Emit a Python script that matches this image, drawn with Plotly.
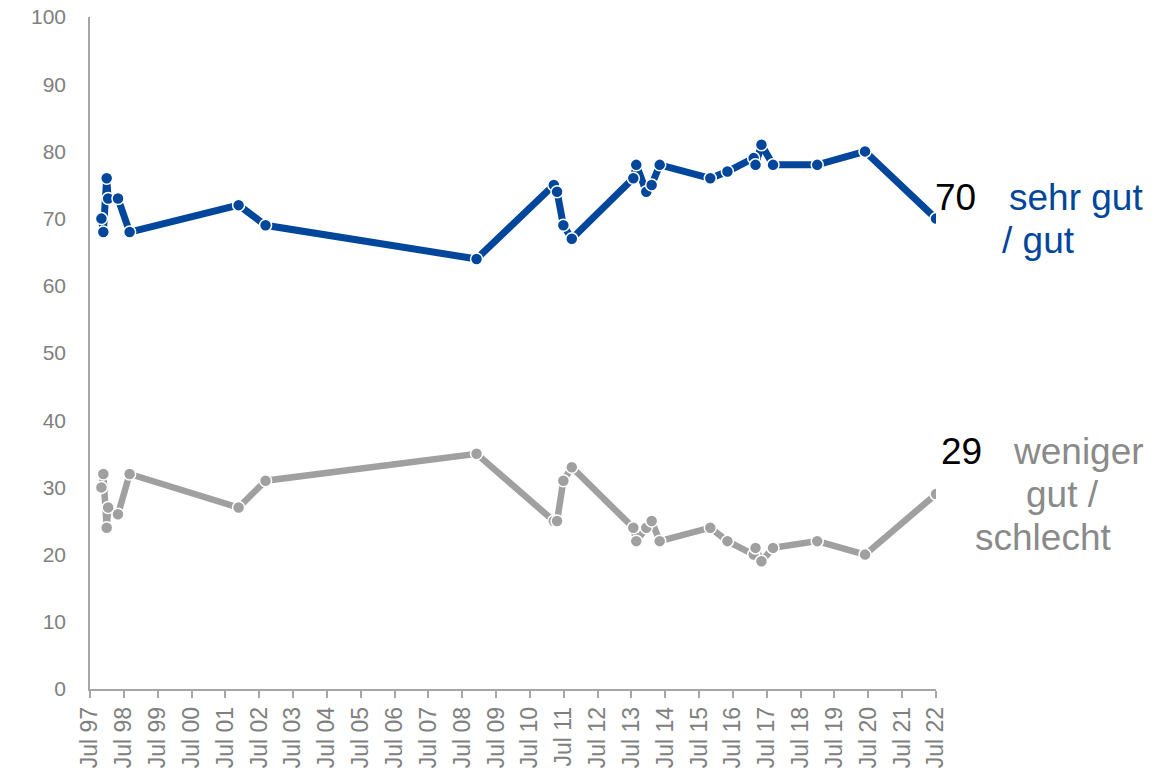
import plotly.graph_objects as go

# survey dates (approximate)
dates = [
    "1997-11-01", "1997-11-22", "1997-12-28", "1998-01-13", "1998-04-29", "1998-09-02",
    "2001-11-21", "2002-09-08", "2008-12-02",
    "2011-03-16", "2011-04-20", "2011-06-27", "2011-09-26",
    "2013-07-21", "2013-08-22", "2013-12-08", "2014-02-04", "2014-05-02",
    "2015-10-30", "2016-05-02", "2017-02-09", "2017-03-01", "2017-05-04", "2017-09-06",
    "2018-12-27", "2020-05-26", "2022-07-01",
]
good = [70, 68, 76, 73, 73, 68, 72, 69, 64, 75, 74, 69, 67,
        76, 78, 74, 75, 78, 76, 77, 79, 78, 81, 78, 78, 80, 70]
bad = [30, 32, 24, 27, 26, 32, 27, 31, 35, 25, 25, 31, 33,
       24, 22, 24, 25, 22, 24, 22, 20, 21, 19, 21, 22, 20, 29]

years = list(range(1997, 2023))
tick_vals = ["%d-07-01" % y for y in years]
tick_text = ["Jul %02d" % (y % 100) for y in years]

BLUE = "#00469B"
GREY_LINE = "#A0A0A0"
GREY_TEXT = "#8A8A8A"
AXIS = "#A6A6A6"
FONT = "Liberation Sans, Arial, sans-serif"

fig = go.Figure()

fig.add_trace(go.Scatter(x=dates, y=bad, mode="lines+markers",
                         line=dict(color=GREY_LINE, width=6.5),
                         marker=dict(size=12, color=GREY_LINE, line=dict(color="white", width=1.5)),
                         name="weniger gut / schlecht"))
fig.add_trace(go.Scatter(x=dates, y=good, mode="lines+markers",
                         line=dict(color=BLUE, width=7),
                         marker=dict(size=12, color=BLUE, line=dict(color="white", width=1.5)),
                         name="sehr gut / gut"))

# end labels (paper x, data y)
labels = [
    ("70", 1.0236, 73.1, "black"),
    ("sehr gut", 1.1655, 73.1, BLUE),
    ("/ gut", 1.1217, 66.8, BLUE),
    ("29", 1.0296, 35.3, "black"),
    ("weniger", 1.169, 35.3, GREY_TEXT),
    ("gut /", 1.149, 28.9, GREY_TEXT),
    ("schlecht", 1.1265, 22.5, GREY_TEXT),
]
for txt, px, py, col in labels:
    fig.add_annotation(text=txt, x=px, y=py, xref="paper", yref="y",
                       xanchor="center", yanchor="middle", showarrow=False,
                       font=dict(family=FONT, size=37, color=col))

fig.update_xaxes(type="date", range=["1997-07-01", "2022-07-01"],
                 tickvals=tick_vals, ticktext=tick_text, tickangle=-90,
                 showline=True, linecolor=AXIS, linewidth=1.5,
                 ticks="outside", ticklen=7, tickcolor=AXIS, tickwidth=1.5,
                 showgrid=False, zeroline=False, automargin=False,
                 ticklabeloverflow="allow",
                 tickfont=dict(family=FONT, size=23, color="#808080"))
fig.update_yaxes(range=[0, 100], tickvals=list(range(0, 101, 10)),
                 showline=True, linecolor=AXIS, linewidth=1.5,
                 ticks="", showgrid=False, zeroline=False, automargin=False,
                 ticklabelstandoff=18, ticklabeloverflow="allow",
                 tickfont=dict(family=FONT, size=21, color="#808080"))

fig.update_layout(width=1171, height=780, showlegend=False,
                  plot_bgcolor="white", paper_bgcolor="white",
                  margin=dict(l=90, r=235, t=17, b=91))

# drop the default 8px body margin so the figure fills the window
fig.write_html("out.html", config={"displayModeBar": False},
               post_script="document.body.style.margin='0';")
